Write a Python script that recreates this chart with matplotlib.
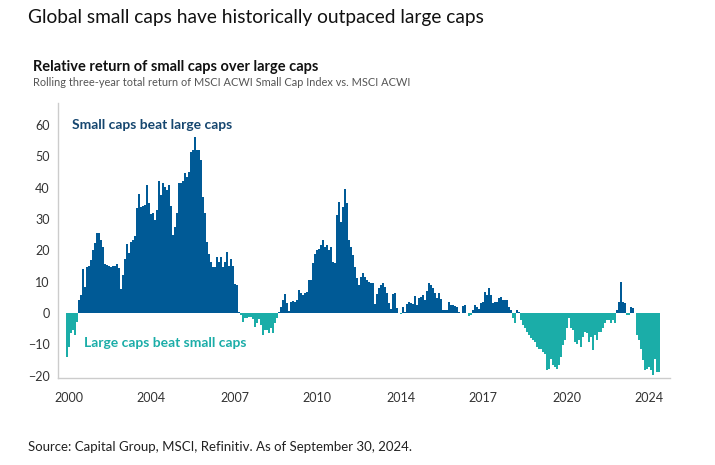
import matplotlib
matplotlib.use("Agg")
import matplotlib.pyplot as plt
import numpy as np
import pandas as pd

# Monthly rolling 3-year relative return (%), Jan 2000 - Sep 2024
values = [
    -14, -10.7, -6.5, -5.4, -7, -2.8, 4.2, 5.8, 14, 8.2,
    14.8, 15, 17, 20, 22.5, 25.7, 25.5, 23.3, 21, 15.8,
    15.3, 15, 14.8, 15, 15, 15.8, 14.3, 7.7, 12.1, 17.2,
    22, 19.3, 22.8, 23.3, 24.6, 33.6, 38, 33.7, 34, 34.5,
    40.8, 35, 31.5, 31.8, 29.7, 33, 42.2, 37.7, 41.4, 40.1,
    39.3, 40.8, 34.1, 24.9, 27.6, 31.8, 41.4, 41.4, 42, 44.8,
    43.5, 45, 51.5, 52, 56.3, 52, 52, 48.8, 37, 31.8,
    22.8, 19, 16.4, 14.8, 14.8, 18, 16.4, 18, 14.8, 16.4,
    19.4, 15, 17.2, 15.1, 9.3, 9.1, 0.4, -0.6, -2.8, -1.7,
    -1.7, -1.2, -1.2, -2, -4.4, -3.3, -2, -3.8, -7, -5.4,
    -5.4, -6.3, -4.9, -6.3, -3.1, -1.7, 0.3, 2, 4.1, 6,
    3.1, 0.7, 3.6, 3.9, 3.6, 4.1, 7.5, 6.3, 5.7, 6.3,
    6.8, 10.7, 10.7, 15.9, 19, 20, 20.3, 21.7, 23.3, 21.2,
    21.7, 20.1, 21.2, 16.4, 15.9, 31.3, 35.5, 29.1, 33.9, 39.5,
    35, 23.3, 21.2, 18.5, 14.8, 11.1, 8.9, 11.6, 12.7, 11.4,
    10.5, 10, 9.7, 9.7, 2.9, 6.1, 7.9, 8.9, 9.5, 8.4,
    6.3, 3.1, 1.2, 6.1, 6.3, 1.5, 0.1, -0.4, 2, 0.4,
    2.9, 3.6, 3.1, 2.9, 5.5, 2.6, 4.7, 5.2, 5.7, 4.1,
    7.1, 9.5, 9, 7.9, 6.3, 4.7, 6.3, 4.4, 1, 1,
    1, 3.6, 2.6, 2.6, 2.2, 2, 0.4, 0, 2.2, 2.6,
    0, -0.8, -0.6, 1, 2.6, 2, 1.2, 3.1, 3.6, 6.8,
    5.7, 7.9, 5.7, 3.1, 3.6, 3.6, 4.7, 5.2, 4.1, 4.1,
    4.1, 2, 1, -1.7, -3.3, 1, 0.4, -2.2, -3.8, -4.9,
    -6, -7, -8.1, -8.6, -9.1, -10.7, -11.3, -11.3, -12.3, -12.9,
    -18.2, -17.7, -14.5, -16.6, -17.2, -17.7, -16.6, -14, -10.2, -8.6,
    -4.9, -1.7, -4.9, -5.4, -9.1, -9.7, -8.6, -10.7, -7.5, -6,
    -6.5, -9.1, -7.5, -11.8, -7, -8.6, -6, -6, -4.9, -3.3,
    -2.2, -2.2, -3.3, -2.2, -3.3, 1, 3.6, 10, 3.6, 3.1,
    -0.6, -0.6, 2, 1.5, 0, -7, -8.6, -11.3, -15, -18.2,
    -17.7, -17.2, -18.2, -19.8, -14.5, -18.7, -18.7,
]
months = pd.period_range("2000-01", periods=len(values), freq="M")
tick_labels = ["2000", "2004", "2007", "2010", "2014", "2017", "2020", "2024"]
tick_positions = [1, 42, 84, 125, 167, 208, 250, 291]
y_ticks = [-20, -10, 0, 10, 20, 30, 40, 50, 60]

BLUE = "#005A96"
TEAL = "#1BADA8"
NAVY = "#15466F"

plt.rcParams["font.family"] = ["Lato", "DejaVu Sans"]

fig = plt.figure(figsize=(7.15, 4.65), dpi=100)
ax = fig.add_axes([58 / 715, 1 - 378 / 465, (670 - 58) / 715, (378 - 103) / 465])

x = np.arange(len(months))
vals = np.array(values)
colors = [BLUE if v >= 0 else TEAL for v in vals]
ax.bar(x, vals, width=1.0, color=colors, linewidth=0, antialiased=False)

ax.set_xlim(-4.5, 301.5)
ax.set_ylim(-20.7, 67)
ax.set_xticks(tick_positions)
ax.set_xticklabels(tick_labels)
ax.set_yticks(y_ticks)
ax.tick_params(axis="both", length=0, labelsize=9, colors="#333333")
ax.tick_params(axis="x", pad=10)
ax.tick_params(axis="y", pad=6)
for s in ["top", "right"]:
    ax.spines[s].set_visible(False)
for s in ["left", "bottom"]:
    ax.spines[s].set_color("#cccccc")
    ax.spines[s].set_linewidth(1)

ax.text(2.5, 60, "Small caps beat large caps", color=NAVY, fontsize=10,
        fontweight="bold", va="center", ha="left")
ax.text(8.5, -9.5, "Large caps beat small caps", color=TEAL, fontsize=10,
        fontweight="bold", va="center", ha="left")

fig.text(28 / 715, 1 - 18 / 465, "Global small caps have historically outpaced large caps",
         fontsize=13.8, color="#111111", va="center", ha="left")
fig.text(33 / 715, 1 - 67 / 465, "Relative return of small caps over large caps",
         fontsize=10.5, fontweight="bold", color="#111111", va="center", ha="left")
fig.text(33 / 715, 1 - 82 / 465, "Rolling three-year total return of MSCI ACWI Small Cap Index vs. MSCI ACWI",
         fontsize=7.9, color="#555555", va="center", ha="left")
fig.text(28 / 715, 1 - 447 / 465, "Source: Capital Group, MSCI, Refinitiv. As of September 30, 2024.",
         fontsize=9.55, color="#222222", va="center", ha="left")

fig.savefig("out.png", dpi=100)
